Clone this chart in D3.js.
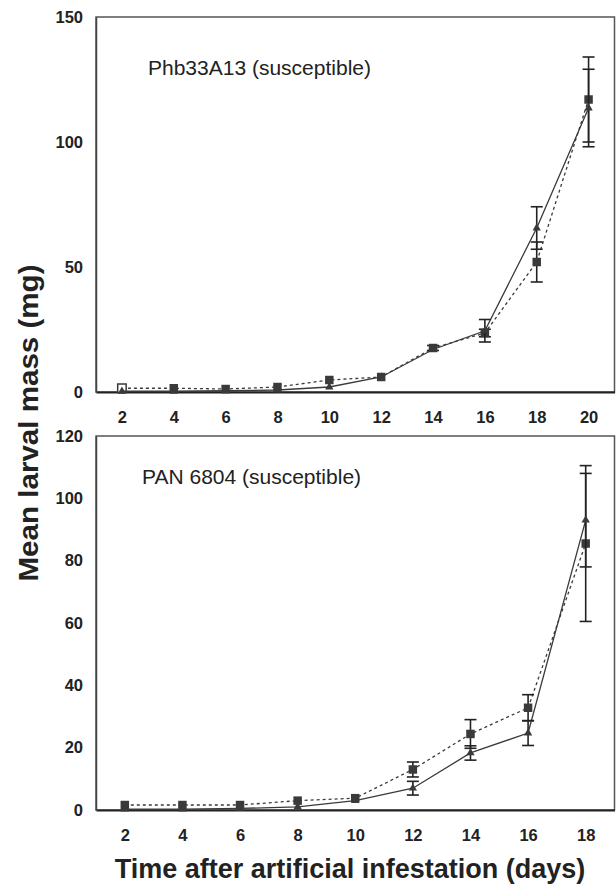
<!DOCTYPE html>
<html>
<head>
<meta charset="utf-8">
<script src="https://cdn.jsdelivr.net/npm/d3@7"></script>
<style>
  body { margin: 0; background: #fff; }
  svg { display: block; font-family: "Liberation Sans", Arial, sans-serif; }
</style>
</head>
<body>
<div id="chart"></div>
<script>
// chart values
const daysTop = [2, 4, 6, 8, 10, 12, 14, 16, 18, 20];
const daysBottom = [2, 4, 6, 8, 10, 12, 14, 16, 18];

const topSquare = [1.5, 1.5, 1.2, 2, 4.8, 6, 17.6, 23.6, 52, 117];
const topSquareErr = [0, 0, 0, 0, 0, 0, 1, 1.5, 8, 17];
const topTriangle = [0.3, 0.3, 0.5, 0.8, 2, 6, 17, 24.5, 65.6, 113.6];
const topTriangleErr = [0, 0, 0, 0, 0, 0, 0, 4.5, 8.5, 15.5];

const bottomSquare = [1.6, 1.6, 1.6, 3, 3.8, 13, 24.4, 32.8, 85.5];
const bottomSquareErr = [0, 0, 0, 0, 0, 2.4, 4.6, 4.2, 25];
const bottomTriangle = [0.3, 0.3, 0.5, 1, 3, 7, 18.3, 24.7, 93];
const bottomTriangleErr = [0, 0, 0, 0, 0, 2.2, 2.3, 4, 15];

// the first square of the top panel is drawn open
const topSquareOpen = [2];

const yTicksTop = [0, 50, 100, 150];
const yTicksBottom = [0, 20, 40, 60, 80, 100, 120];

const width = 616, height = 886;
const ink = "#3a3a3a";

const svg = d3.select("#chart").append("svg")
    .attr("width", width)
    .attr("height", height);

function drawPanel(p) {
    const x = d3.scaleLinear().domain(p.xDomain).range([96, 614.5]);
    const y = d3.scaleLinear().domain(p.yDomain).range([p.bottom, p.top]);
    const g = svg.append("g");

    // frame
    g.append("rect")
        .attr("x", x.range()[0]).attr("y", p.top)
        .attr("width", x.range()[1] - x.range()[0])
        .attr("height", p.bottom - p.top)
        .attr("fill", "none")
        .attr("stroke", "#555")
        .attr("stroke-width", 1.5);

    // axes without tick marks
    const xAxis = g.append("g")
        .attr("transform", `translate(0,${p.bottom})`)
        .call(d3.axisBottom(x).tickValues(p.days).tickSize(0).tickPadding(19));
    xAxis.select(".domain").attr("stroke", "#222").attr("stroke-width", 2.2);
    xAxis.selectAll("text").attr("fill", "#222").style("font-size", "16.5px").style("font-weight", "bold");

    const yAxis = g.append("g")
        .attr("transform", `translate(${x.range()[0]},0)`)
        .call(d3.axisLeft(y).tickValues(p.yTicks).tickSize(0).tickPadding(13));
    yAxis.select(".domain").attr("stroke", "#444").attr("stroke-width", 1.5);
    yAxis.selectAll("text").attr("fill", "#222").style("font-size", "16.5px").style("font-weight", "bold");

    g.append("text")
        .attr("x", p.labelX).attr("y", p.labelY)
        .attr("fill", "#222")
        .style("font-size", "21px")
        .text(p.label);

    const series = [
        { vals: p.sq, err: p.sqErr, dash: "3,3", mark: "square", open: p.sqOpen || [] },
        { vals: p.tri, err: p.triErr, dash: null, mark: "triangle", open: [] }
    ];

    series.forEach(s => {
        const pts = p.days.map((d, i) => ({ d: d, v: s.vals[i], e: s.err[i], open: s.open.includes(d) }));

        g.append("path")
            .datum(pts)
            .attr("fill", "none")
            .attr("stroke", ink)
            .attr("stroke-width", 1.3)
            .attr("stroke-dasharray", s.dash)
            .attr("d", d3.line().x(d => x(d.d)).y(d => y(d.v)));

        // error bars
        const eb = g.append("g").selectAll("g")
            .data(pts.filter(d => d.e > 0))
            .enter().append("g")
            .attr("stroke", "#222")
            .attr("stroke-width", 1.6);
        eb.append("line")
            .attr("x1", d => x(d.d)).attr("x2", d => x(d.d))
            .attr("y1", d => y(d.v - d.e)).attr("y2", d => y(d.v + d.e));
        eb.append("line")
            .attr("x1", d => x(d.d) - 6).attr("x2", d => x(d.d) + 6)
            .attr("y1", d => y(d.v + d.e)).attr("y2", d => y(d.v + d.e));
        eb.append("line")
            .attr("x1", d => x(d.d) - 6).attr("x2", d => x(d.d) + 6)
            .attr("y1", d => y(d.v - d.e)).attr("y2", d => y(d.v - d.e));

        const sym = s.mark === "square"
            ? d3.symbol().type(d3.symbolSquare).size(72)
            : d3.symbol().type(d3.symbolTriangle).size(30);
        g.append("g").selectAll("path")
            .data(pts)
            .enter().append("path")
            .attr("transform", d => `translate(${x(d.d)},${y(d.v)})`)
            .attr("d", sym)
            .attr("fill", d => d.open ? "#fff" : ink)
            .attr("stroke", d => d.open ? ink : "none")
            .attr("stroke-width", 1.5);
    });
}

drawPanel({
    days: daysTop, xDomain: [1, 21], yDomain: [0, 150], yTicks: yTicksTop,
    top: 17, bottom: 392,
    sq: topSquare, sqErr: topSquareErr, sqOpen: topSquareOpen,
    tri: topTriangle, triErr: topTriangleErr,
    label: "Phb33A13 (susceptible)", labelX: 148, labelY: 75
});

drawPanel({
    days: daysBottom, xDomain: [1, 19], yDomain: [0, 120], yTicks: yTicksBottom,
    top: 436, bottom: 810,
    sq: bottomSquare, sqErr: bottomSquareErr, tri: bottomTriangle, triErr: bottomTriangleErr,
    label: "PAN 6804 (susceptible)", labelX: 142, labelY: 484
});

// axis titles
svg.append("text")
    .attr("x", 350).attr("y", 878)
    .attr("text-anchor", "middle")
    .attr("fill", "#222")
    .style("font-size", "27px").style("font-weight", "bold")
    .text("Time after artificial infestation (days)");

svg.append("text")
    .attr("transform", "translate(38,423) rotate(-90)")
    .attr("text-anchor", "middle")
    .attr("fill", "#222")
    .attr("textLength", 317)
    .attr("lengthAdjust", "spacingAndGlyphs")
    .style("font-size", "27px").style("font-weight", "bold")
    .text("Mean larval mass (mg)");
</script>
</body>
</html>
